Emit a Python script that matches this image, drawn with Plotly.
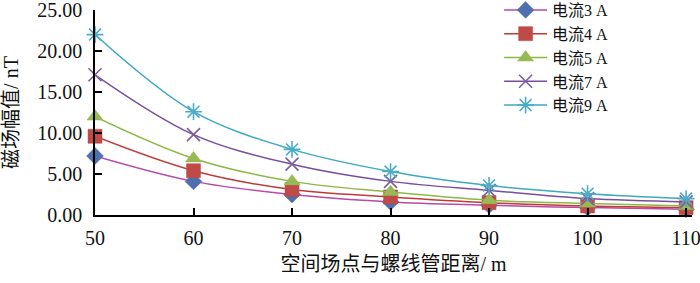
import plotly.graph_objects as go

distance = [50, 60, 70, 80, 90, 100, 110]
series_names = ["电流3 A", "电流4 A", "电流5 A", "电流7 A", "电流9 A"]
i3 = [7.2, 4.1, 2.5, 1.6, 1.2, 0.9, 0.7]
i4 = [9.6, 5.4, 3.1, 2.2, 1.5, 1.1, 0.9]
i5 = [12.0, 6.9, 4.1, 2.8, 1.8, 1.4, 1.1]
i7 = [17.1, 9.8, 6.2, 4.1, 3.0, 2.0, 1.6]
i9 = [22.0, 12.6, 8.0, 5.3, 3.6, 2.6, 2.0]
values = [i3, i4, i5, i7, i9]

line_colors = ["#B84AA8", "#C0393B", "#8DB845", "#7A4E9E", "#3FA9C0"]
marker_colors = ["#4F6FAE", "#BE4B48", "#98B954", "#7D5FA0", "#4BACC6"]
symbols = ["diamond", "square", "triangle-up", "x-thin-open", "asterisk-open"]
sizes = [13, 14, 14, 13, 14]

font_family = "Liberation Serif, Noto Sans CJK SC, serif"

fig = go.Figure()
for name, vals, lc, mc, sym, sz in zip(series_names, values, line_colors, marker_colors, symbols, sizes):
    marker = dict(symbol=sym, size=sz, color=mc)
    if sym.endswith("open"):
        marker["line"] = dict(color=mc, width=1.6)
    else:
        marker["line"] = dict(color=mc, width=0.5)
    fig.add_trace(go.Scatter(
        x=distance, y=vals, name=name, mode="lines+markers",
        line=dict(color=lc, width=1.5, shape="spline", smoothing=1.0),
        marker=marker, cliponaxis=False,
    ))

fig.update_layout(
    width=700, height=283,
    margin=dict(l=95, r=8, t=10, b=68, autoexpand=False),
    paper_bgcolor="white", plot_bgcolor="white",
    font=dict(family=font_family, size=20, color="#111"),
    showlegend=True,
    legend=dict(xref="container", yref="paper", x=0.713, y=1.083,
                xanchor="left", yanchor="top",
                font=dict(size=16, family=font_family), bgcolor="rgba(0,0,0,0)",
                tracegroupgap=0, itemwidth=43),
    xaxis=dict(range=[50, 110.6], tickvals=distance, ticks="inside", ticklen=7,
               tickwidth=1.5, tickcolor="black", showline=True, linecolor="black",
               linewidth=1.5, showgrid=False, zeroline=False, automargin=True,
               ticklabelstandoff=4, ticklabeloverflow="allow",
               title=dict(text="空间场点与螺线管距离/ m", font=dict(size=20), standoff=9),
               tickfont=dict(size=20)),
    yaxis=dict(range=[0, 25], dtick=5, tickformat=".2f", ticks="inside", ticklen=7,
               tickwidth=1.5, tickcolor="black", showline=True, linecolor="black",
               linewidth=1.5, showgrid=False, zeroline=False, automargin=False,
               ticklabelstandoff=7, ticklabeloverflow="allow",
               title=dict(text="磁场幅值/ nT", font=dict(size=20)),
               tickfont=dict(size=20)),
)

fig.write_html("out.html", config={"displayModeBar": False},
               post_script="document.body.style.margin='0';")
